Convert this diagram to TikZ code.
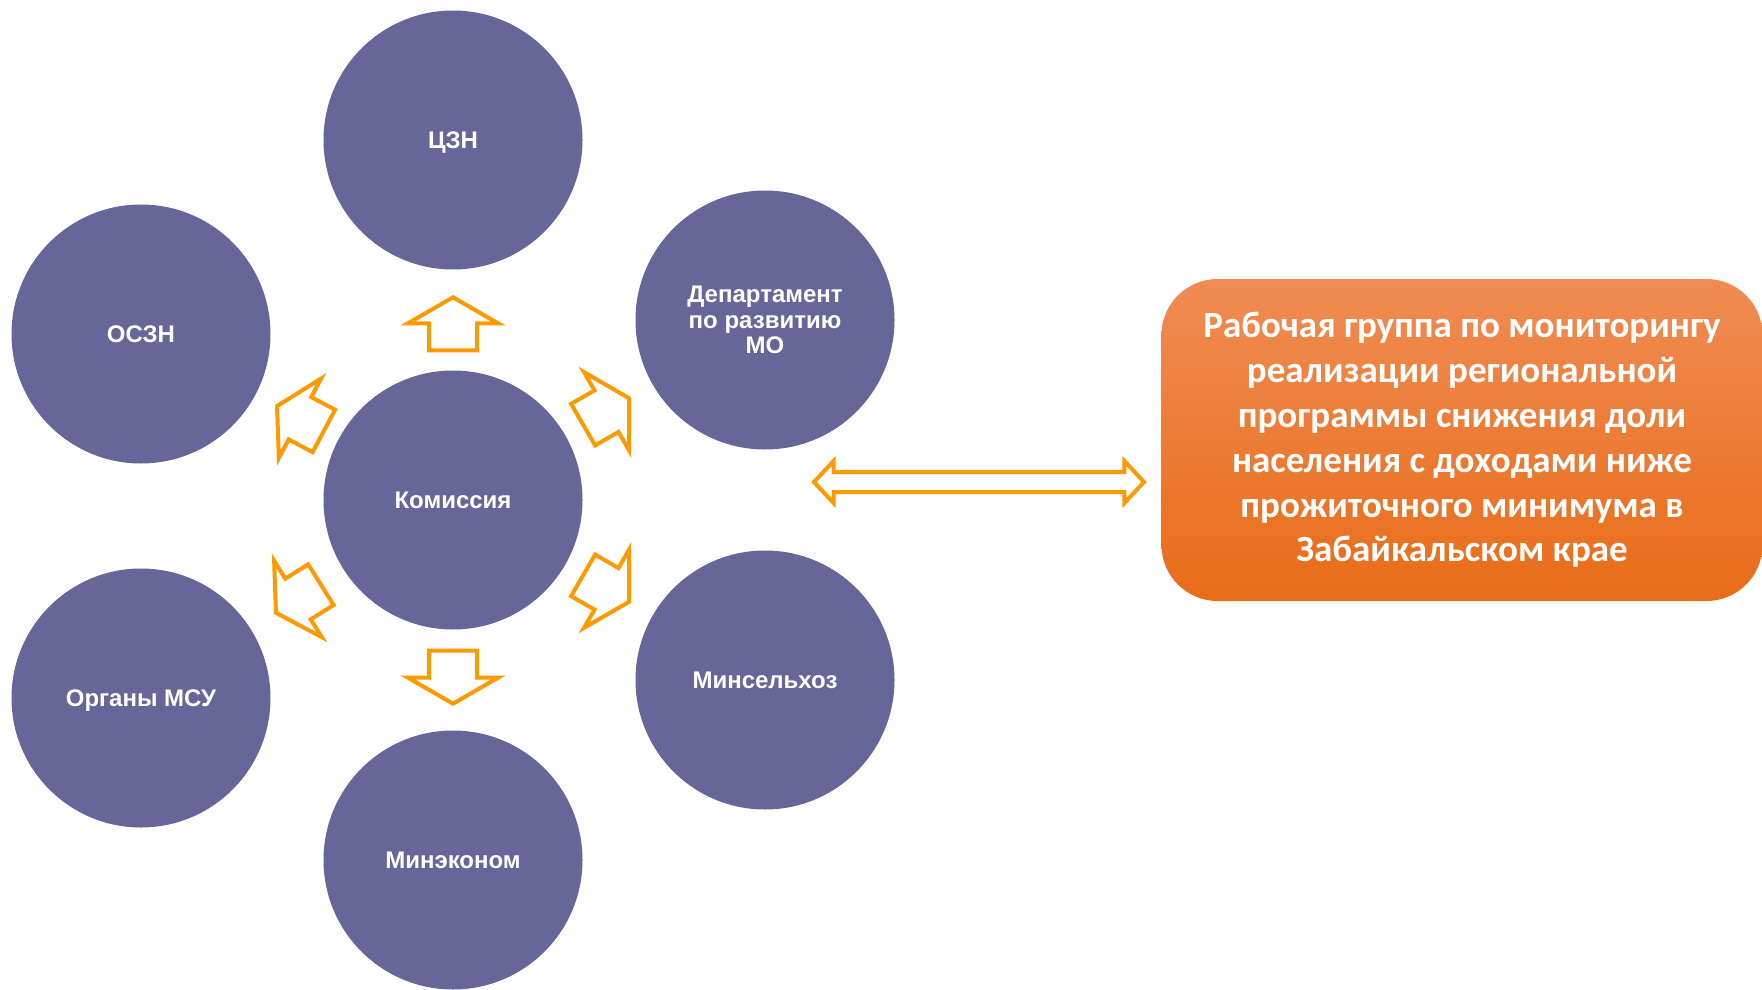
\documentclass[tikz,border=0pt]{standalone}
\usepackage{fontspec}
\setmainfont{Liberation Sans}
\newfontfamily\groupfont{Carlito}
\usetikzlibrary{shapes.arrows}
\definecolor{orgblue}{HTML}{666699}
\definecolor{arroworange}{HTML}{FF9900}
\definecolor{grouptop}{HTML}{F08C54}
\definecolor{groupbottom}{HTML}{E86C18}

\begin{document}
\begin{tikzpicture}[x=1pt, y=-1pt,
  org/.style={circle, fill=orgblue, minimum size=259pt, inner sep=0pt, text=white, align=center,
    text height=17.2pt, text depth=0pt, font=\fontsize{24}{25.5}\selectfont\bfseries},
  flow/.style={single arrow, draw=arroworange, line width=4pt, fill=white, inner xsep=0pt, inner ysep=22pt,
    minimum height=53pt, single arrow head extend=21pt, single arrow tip angle=120, anchor=tip},
  link/.style={double arrow, draw=arroworange, line width=4pt, fill=white, inner xsep=0pt, inner ysep=8pt,
    minimum height=330pt, double arrow head extend=11pt, double arrow tip angle=94},
  group/.style={rectangle, rounded corners=56pt, top color=grouptop, bottom color=groupbottom,
    minimum width=601pt, minimum height=322pt, text=white, align=center,
    font=\groupfont\fontsize{37}{44.8}\selectfont\bfseries}]

\useasboundingbox (0,0) rectangle (1762,990);

% Commission and its partners
\node[org] (kom) at (453,500) {Комиссия};
\node[org] (czn) at (453,140) {ЦЗН};
\node[org, text height=, text depth=] (dep) at (765,320) {Департамент\\по развитию\\МО};
\node[org] (oszn) at (141,334) {ОСЗН};
\node[org] (msu) at (141,698) {Органы МСУ};
\node[org] (msh) at (765,680) {Минсельхоз};
\node[org] (mek) at (453,860) {Минэконом};

% Block arrows out of the commission (placed by their tips)
\node[flow, rotate=90] (tocz) at (453,295) {};
\node[flow, rotate=30] (todep) at (631,397) {};
\node[flow, rotate=-30] (tomsh) at (631,603) {};
\node[flow, rotate=-90] (tomek) at (453,706) {};
\node[flow, rotate=212] (tomsu) at (274,614) {};
\node[flow, rotate=152] (tooszn) at (275,405) {};

% Working group
\node[group] (wg) at (1462,440)
  {Рабочая группа по мониторингу\\
   реализации региональной\\
   программы снижения доли\\
   населения с доходами ниже\\
   прожиточного минимума в\\
   Забайкальском крае};

\node[link] (both) at (979,482) {};

\end{tikzpicture}
\end{document}
